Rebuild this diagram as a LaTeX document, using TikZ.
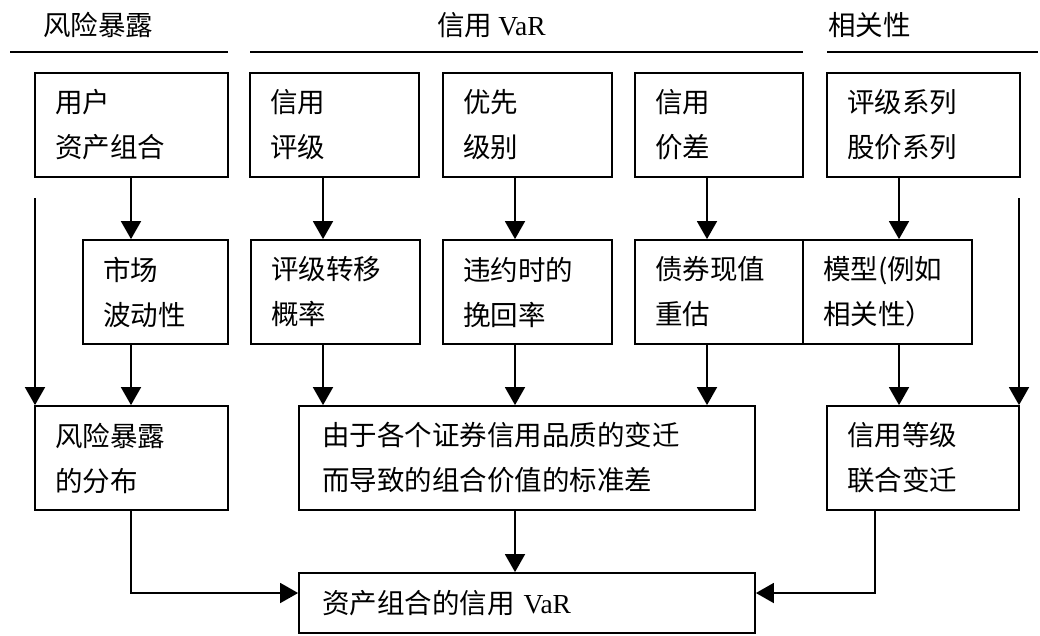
\documentclass[tikz,border=0pt]{standalone}
\usepackage{fontspec}
\setmainfont{Noto Sans CJK SC}
\newfontfamily\latin{Liberation Serif}
\usetikzlibrary{arrows.meta}
\begin{document}
\begin{tikzpicture}[x=1pt,y=-1pt,
  box/.style={draw, line width=1.8pt, font=\fontsize{27.5pt}{45pt}\selectfont, align=left,
    inner xsep=20pt, inner ysep=0pt, minimum height=104pt, text width=#1},
  arr/.style={line width=1.8pt, -{Triangle[width=20pt,length=18pt]}},
  ln/.style={line width=1.8pt},
  hd/.style={font=\fontsize{27.5pt}{45pt}\selectfont, inner sep=0pt, anchor=west}]
\useasboundingbox (0,0) rectangle (1040,635);
% headers
\node[hd] (h1) at (43,25) {风险暴露};
\node[hd] (h2) at (437,25) {信用 {\latin VaR}};
\node[hd] (h3) at (828,25) {相关性};
\coordinate (l1a) at (10,52);  \coordinate (l1b) at (228,52);
\coordinate (l2a) at (250,52); \coordinate (l2b) at (803,52);
\coordinate (l3a) at (827,52); \coordinate (l3b) at (1038,52);
\draw[ln] (l1a) -- (l1b);
\draw[ln] (l2a) -- (l2b);
\draw[ln] (l3a) -- (l3b);
% row 1
\node[box=153pt] (A) at (131.5,125) {用户\\资产组合};
\node[box=129pt] (B) at (334.5,125) {信用\\评级};
\node[box=129pt] (C) at (527.5,125) {优先\\级别};
\node[box=128pt] (D) at (719,125) {信用\\价差};
\node[box=153pt] (E) at (923.5,125) {评级系列\\股价系列};
% row 2
\node[box=105pt] (F) at (155.5,292) {市场\\波动性};
\node[box=129pt] (G) at (335.5,292) {评级转移\\概率};
\node[box=129pt] (H) at (527.5,292) {违约时的\\挽回率};
\node[box=128pt] (I) at (719,292) {债券现值\\重估};
\node[box=129pt] (J) at (887.5,292) {模型(例如\\相关性）};
% row 3
\node[box=153pt] (K) at (131.5,458) {风险暴露\\的分布};
\node[box=410pt, inner xsep=23pt] (L) at (527,458) {由于各个证券信用品质的变迁\\而导致的组合价值的标准差};
\node[box=152pt] (M) at (923,458) {信用等级\\联合变迁};
% row 4
\node[box=410pt, inner xsep=23pt, minimum height=60pt] (N) at (527,603) {资产组合的信用 {\latin VaR}};
% helper coordinates
\coordinate (x131) at (131,0);
\coordinate (x323) at (323,0);
\coordinate (x515) at (515,0);
\coordinate (x707) at (707,0);
\coordinate (x899) at (899,0);
\coordinate (x875) at (875,0);
\coordinate (y593) at (0,593);
\coordinate (lt) at (35,198);
\coordinate (rt) at (1019,198);
% arrows
\draw[arr] (A.south -| x131) -- (F.north -| x131);
\draw[arr] (B.south -| x323) -- (G.north -| x323);
\draw[arr] (C.south -| x515) -- (H.north -| x515);
\draw[arr] (D.south -| x707) -- (I.north -| x707);
\draw[arr] (E.south -| x899) -- (J.north -| x899);
\draw[arr] (F.south -| x131) -- (K.north -| x131);
\draw[arr] (G.south -| x323) -- (L.north -| x323);
\draw[arr] (H.south -| x515) -- (L.north -| x515);
\draw[arr] (I.south -| x707) -- (L.north -| x707);
\draw[arr] (J.south -| x899) -- (M.north -| x899);
\draw[arr] (lt) -- (lt |- K.north);
\draw[arr] (rt) -- (rt |- M.north);
\draw[arr] (L.south -| x515) -- (N.north -| x515);
\draw[arr] (K.south -| x131) |- (y593 -| N.west);
\draw[arr] (M.south -| x875) |- (y593 -| N.east);
\end{tikzpicture}
\end{document}
